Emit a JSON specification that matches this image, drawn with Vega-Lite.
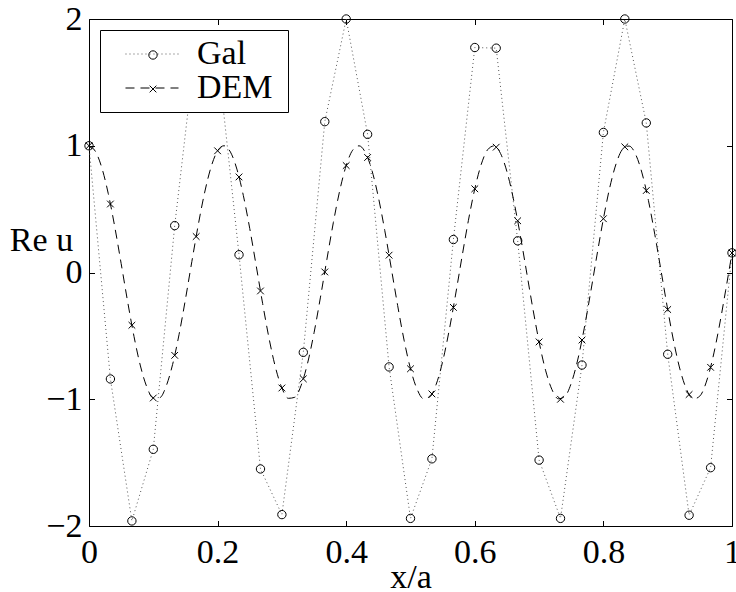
{
  "$schema": "https://vega.github.io/schema/vega-lite/v6.json",
  "width": 643,
  "height": 507,
  "padding": {"left": 89, "top": 19, "right": 4, "bottom": 66},
  "autosize": {"type": "none"},
  "background": "white",
  "datasets": {
    "pts": [
      {"s":"Gal","x":0,"y":1},{"s":"Gal","x":0.0333,"y":-0.84},{"s":"Gal","x":0.0667,"y":-1.96},{"s":"Gal","x":0.1,"y":-1.395},
      {"s":"Gal","x":0.1333,"y":0.37},{"s":"Gal","x":0.1667,"y":1.83},{"s":"Gal","x":0.2,"y":1.71},{"s":"Gal","x":0.2333,"y":0.14},
      {"s":"Gal","x":0.2667,"y":-1.55},{"s":"Gal","x":0.3,"y":-1.91},{"s":"Gal","x":0.3333,"y":-0.63},{"s":"Gal","x":0.3667,"y":1.19},
      {"s":"Gal","x":0.4,"y":2.0},{"s":"Gal","x":0.4333,"y":1.09},{"s":"Gal","x":0.4667,"y":-0.745},{"s":"Gal","x":0.5,"y":-1.94},
      {"s":"Gal","x":0.5333,"y":-1.47},{"s":"Gal","x":0.5667,"y":0.26},{"s":"Gal","x":0.6,"y":1.775},{"s":"Gal","x":0.6333,"y":1.77},
      {"s":"Gal","x":0.6667,"y":0.25},{"s":"Gal","x":0.7,"y":-1.48},{"s":"Gal","x":0.7333,"y":-1.94},{"s":"Gal","x":0.7667,"y":-0.73},
      {"s":"Gal","x":0.8,"y":1.105},{"s":"Gal","x":0.8333,"y":2.0},{"s":"Gal","x":0.8667,"y":1.18},{"s":"Gal","x":0.9,"y":-0.645},
      {"s":"Gal","x":0.9333,"y":-1.915},{"s":"Gal","x":0.9667,"y":-1.54},{"s":"Gal","x":1,"y":0.155},
      {"s":"DEM","x":0,"y":1},{"s":"DEM","x":0.0333,"y":0.5403},{"s":"DEM","x":0.0667,"y":-0.4161},{"s":"DEM","x":0.1,"y":-0.99},
      {"s":"DEM","x":0.1333,"y":-0.6536},{"s":"DEM","x":0.1667,"y":0.2837},{"s":"DEM","x":0.2,"y":0.9602},{"s":"DEM","x":0.2333,"y":0.7539},
      {"s":"DEM","x":0.2667,"y":-0.1455},{"s":"DEM","x":0.3,"y":-0.9111},{"s":"DEM","x":0.3333,"y":-0.8391},{"s":"DEM","x":0.3667,"y":0.0044},
      {"s":"DEM","x":0.4,"y":0.8439},{"s":"DEM","x":0.4333,"y":0.9074},{"s":"DEM","x":0.4667,"y":0.1367},{"s":"DEM","x":0.5,"y":-0.7597},
      {"s":"DEM","x":0.5333,"y":-0.9577},{"s":"DEM","x":0.5667,"y":-0.2752},{"s":"DEM","x":0.6,"y":0.6603},{"s":"DEM","x":0.6333,"y":0.9887},
      {"s":"DEM","x":0.6667,"y":0.4081},{"s":"DEM","x":0.7,"y":-0.5477},{"s":"DEM","x":0.7333,"y":-1.0},{"s":"DEM","x":0.7667,"y":-0.5328},
      {"s":"DEM","x":0.8,"y":0.4242},{"s":"DEM","x":0.8333,"y":0.9912},{"s":"DEM","x":0.8667,"y":0.6469},{"s":"DEM","x":0.9,"y":-0.2921},
      {"s":"DEM","x":0.9333,"y":-0.9626},{"s":"DEM","x":0.9667,"y":-0.7481},{"s":"DEM","x":1,"y":0.1543}
    ],
    "curve": [
      {"s":"DEM","x":0,"y":1},{"s":"DEM","x":0.01,"y":0.9553},{"s":"DEM","x":0.02,"y":0.8253},{"s":"DEM","x":0.03,"y":0.6216},
      {"s":"DEM","x":0.04,"y":0.3624},{"s":"DEM","x":0.05,"y":0.0707},{"s":"DEM","x":0.06,"y":-0.2272},{"s":"DEM","x":0.07,"y":-0.5048},
      {"s":"DEM","x":0.08,"y":-0.7374},{"s":"DEM","x":0.09,"y":-0.9041},{"s":"DEM","x":0.1,"y":-0.99},{"s":"DEM","x":0.11,"y":-0.9875},
      {"s":"DEM","x":0.12,"y":-0.8968},{"s":"DEM","x":0.13,"y":-0.7259},{"s":"DEM","x":0.14,"y":-0.4903},{"s":"DEM","x":0.15,"y":-0.2108},
      {"s":"DEM","x":0.16,"y":0.0875},{"s":"DEM","x":0.17,"y":0.378},{"s":"DEM","x":0.18,"y":0.6347},{"s":"DEM","x":0.19,"y":0.8347},
      {"s":"DEM","x":0.2,"y":0.9602},{"s":"DEM","x":0.21,"y":0.9999},{"s":"DEM","x":0.22,"y":0.9502},{"s":"DEM","x":0.23,"y":0.8158},
      {"s":"DEM","x":0.24,"y":0.6084},{"s":"DEM","x":0.25,"y":0.3466},{"s":"DEM","x":0.26,"y":0.054},{"s":"DEM","x":0.27,"y":-0.2435},
      {"s":"DEM","x":0.28,"y":-0.5193},{"s":"DEM","x":0.29,"y":-0.7487},{"s":"DEM","x":0.3,"y":-0.9111},{"s":"DEM","x":0.31,"y":-0.9927},
      {"s":"DEM","x":0.32,"y":-0.9847},{"s":"DEM","x":0.33,"y":-0.8892},{"s":"DEM","x":0.34,"y":-0.7144},{"s":"DEM","x":0.35,"y":-0.4755},
      {"s":"DEM","x":0.36,"y":-0.1944},{"s":"DEM","x":0.37,"y":0.1042},{"s":"DEM","x":0.38,"y":0.3935},{"s":"DEM","x":0.39,"y":0.6476},
      {"s":"DEM","x":0.4,"y":0.8439},{"s":"DEM","x":0.41,"y":0.9647},{"s":"DEM","x":0.42,"y":0.9994},{"s":"DEM","x":0.43,"y":0.9449},
      {"s":"DEM","x":0.44,"y":0.8059},{"s":"DEM","x":0.45,"y":0.5949},{"s":"DEM","x":0.46,"y":0.3308},{"s":"DEM","x":0.47,"y":0.0372},
      {"s":"DEM","x":0.48,"y":-0.2598},{"s":"DEM","x":0.49,"y":-0.5336},{"s":"DEM","x":0.5,"y":-0.7597},{"s":"DEM","x":0.51,"y":-0.9176},
      {"s":"DEM","x":0.52,"y":-0.9947},{"s":"DEM","x":0.53,"y":-0.9816},{"s":"DEM","x":0.54,"y":-0.8814},{"s":"DEM","x":0.55,"y":-0.7025},
      {"s":"DEM","x":0.56,"y":-0.4604},{"s":"DEM","x":0.57,"y":-0.1779},{"s":"DEM","x":0.58,"y":0.1208},{"s":"DEM","x":0.59,"y":0.409},
      {"s":"DEM","x":0.6,"y":0.6603},{"s":"DEM","x":0.61,"y":0.8528},{"s":"DEM","x":0.62,"y":0.969},{"s":"DEM","x":0.63,"y":0.9987},
      {"s":"DEM","x":0.64,"y":0.9392},{"s":"DEM","x":0.65,"y":0.7958},{"s":"DEM","x":0.66,"y":0.5814},{"s":"DEM","x":0.67,"y":0.315},
      {"s":"DEM","x":0.68,"y":0.0204},{"s":"DEM","x":0.69,"y":-0.276},{"s":"DEM","x":0.7,"y":-0.5477},{"s":"DEM","x":0.71,"y":-0.7704},
      {"s":"DEM","x":0.72,"y":-0.9239},{"s":"DEM","x":0.73,"y":-0.9964},{"s":"DEM","x":0.74,"y":-0.9783},{"s":"DEM","x":0.75,"y":-0.8733},
      {"s":"DEM","x":0.76,"y":-0.6903},{"s":"DEM","x":0.77,"y":-0.4454},{"s":"DEM","x":0.78,"y":-0.1613},{"s":"DEM","x":0.79,"y":0.1376},
      {"s":"DEM","x":0.8,"y":0.4242},{"s":"DEM","x":0.81,"y":0.6729},{"s":"DEM","x":0.82,"y":0.8615},{"s":"DEM","x":0.83,"y":0.973},
      {"s":"DEM","x":0.84,"y":0.9977},{"s":"DEM","x":0.85,"y":0.9333},{"s":"DEM","x":0.86,"y":0.7855},{"s":"DEM","x":0.87,"y":0.5687},
      {"s":"DEM","x":0.88,"y":0.2988},{"s":"DEM","x":0.89,"y":0.0035},{"s":"DEM","x":0.9,"y":-0.2921},{"s":"DEM","x":0.91,"y":-0.5616},
      {"s":"DEM","x":0.92,"y":-0.781},{"s":"DEM","x":0.93,"y":-0.93},{"s":"DEM","x":0.94,"y":-0.9978},{"s":"DEM","x":0.95,"y":-0.9746},
      {"s":"DEM","x":0.96,"y":-0.865},{"s":"DEM","x":0.97,"y":-0.6779},{"s":"DEM","x":0.98,"y":-0.4303},{"s":"DEM","x":0.99,"y":-0.1447},
      {"s":"DEM","x":1,"y":0.1543}
    ]
  },
  "layer": [
    {
      "data": {"name": "pts"},
      "transform": [{"filter": "datum.s === 'Gal'"}],
      "mark": {"type": "line", "strokeWidth": 1},
      "encoding": {
        "x": {"field": "x", "type": "quantitative", "scale": {"domain": [0, 1], "nice": false, "zero": false},
              "axis": {"orient": "bottom", "values": [0, 0.2, 0.4, 0.6, 0.8, 1], "format": "~g", "labelPadding": 14.8,
                       "title": "x/a", "titleX": 321.5, "titleY": 61, "titleAlign": "center", "titleBaseline": "alphabetic"}},
        "y": {"field": "y", "type": "quantitative", "scale": {"domain": [-2, 2], "nice": false, "zero": false},
              "axis": {"orient": "left", "values": [-2, -1, 0, 1, 2], "format": "~g", "labelPadding": 12.5,
                       "title": "Re u", "titleAngle": 0, "titleX": -48, "titleY": 231, "titleAlign": "center", "titleBaseline": "alphabetic"}},
        "color": {"field": "s", "type": "nominal", "scale": {"domain": ["Gal", "DEM"], "range": ["#555555", "#000000"]},
                  "legend": {"orient": "top-left", "offset": 11, "title": null, "strokeColor": "black", "fillColor": "white", "padding": 7,
                             "symbolType": "M-2.6,0L2.6,0M12.4,0", "symbolSize": 416, "symbolStrokeWidth": 1, "symbolOffset": 28, "labelOffset": 28,
                             "labelFontSize": 34, "rowPadding": 0, "zindex": 1}},
        "strokeDash": {"field": "s", "type": "nominal", "scale": {"domain": ["Gal", "DEM"], "range": [[1, 3], [9, 6]]},
                  "legend": {"orient": "top-left", "offset": 11, "title": null, "strokeColor": "black", "fillColor": "white", "padding": 7,
                             "symbolType": "M-2.6,0L2.6,0M12.4,0", "symbolSize": 416, "symbolStrokeWidth": 1, "symbolOffset": 28, "labelOffset": 28,
                             "labelFontSize": 34, "rowPadding": 0, "zindex": 1}}
      }
    },
    {
      "data": {"name": "curve"},
      "mark": {"type": "line", "strokeWidth": 1, "interpolate": "monotone"},
      "encoding": {
        "x": {"field": "x", "type": "quantitative", "scale": {"domain": [0, 1], "nice": false, "zero": false},
              "axis": {"orient": "top", "values": [0, 0.2, 0.4, 0.6, 0.8, 1], "labels": false, "title": null}},
        "y": {"field": "y", "type": "quantitative", "scale": {"domain": [-2, 2], "nice": false, "zero": false},
              "axis": {"orient": "right", "values": [-2, -1, 0, 1, 2], "labels": false, "title": null}},
        "color": {"field": "s", "type": "nominal", "scale": {"domain": ["Gal", "DEM"], "range": ["#555555", "#000000"]},
                  "legend": {"orient": "top-left", "offset": 11, "title": null, "strokeColor": "black", "fillColor": "white", "padding": 7,
                             "symbolType": "M-2.6,0L2.6,0M12.4,0", "symbolSize": 416, "symbolStrokeWidth": 1, "symbolOffset": 28, "labelOffset": 28,
                             "labelFontSize": 34, "rowPadding": 0, "zindex": 1}},
        "strokeDash": {"field": "s", "type": "nominal", "scale": {"domain": ["Gal", "DEM"], "range": [[1, 3], [9, 6]]},
                  "legend": {"orient": "top-left", "offset": 11, "title": null, "strokeColor": "black", "fillColor": "white", "padding": 7,
                             "symbolType": "M-2.6,0L2.6,0M12.4,0", "symbolSize": 416, "symbolStrokeWidth": 1, "symbolOffset": 28, "labelOffset": 28,
                             "labelFontSize": 34, "rowPadding": 0, "zindex": 1}}
      }
    },
    {
      "data": {"name": "pts"},
      "mark": {"type": "point", "filled": false, "color": "black", "strokeWidth": 1, "size": 70, "opacity": 1},
      "encoding": {
        "x": {"field": "x", "type": "quantitative", "axis": null},
        "y": {"field": "y", "type": "quantitative", "axis": null},
        "shape": {"field": "s", "type": "nominal", "sort": "descending",
                  "scale": {"range": ["circle", "M-0.8,-0.8L0.8,0.8M0.8,-0.8L-0.8,0.8"]},
                  "legend": {"orient": "none", "legendX": 11, "legendY": 12, "title": null, "padding": 7, "symbolSize": 70,
                             "symbolStrokeWidth": 1, "symbolOffset": 29, "labelOffset": 330, "labelFontSize": 34, "labelOpacity": 0,
                             "rowPadding": 0, "zindex": 2}}
      }
    }
  ],
  "resolve": {"axis": {"x": "independent", "y": "independent"}},
  "config": {
    "view": {"stroke": null},
    "font": "Liberation Serif",
    "axis": {"grid": false, "domainColor": "black", "domainWidth": 1, "tickColor": "black", "tickWidth": 1, "tickSize": -5.5,
             "labelFont": "Liberation Serif", "labelFontSize": 34, "labelColor": "black", "labelFlush": false, "labelOverlap": false,
             "titleFont": "Liberation Serif", "titleFontSize": 34, "titleFontWeight": "normal", "titleColor": "black"},
    "legend": {"labelFont": "Liberation Serif", "labelFontSize": 34, "labelColor": "black"}
  }
}
